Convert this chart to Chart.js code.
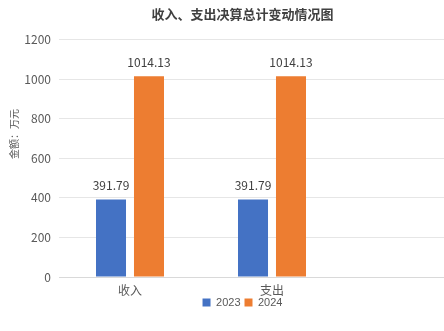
<!DOCTYPE html>
<html>
<head>
<meta charset="utf-8">
<script src="https://cdn.jsdelivr.net/npm/chart.js@4"></script>
<style>
  html, body { margin: 0; padding: 0; overflow: hidden; background: #fff; }
  #wrap { width: 490px; height: 331px; }
</style>
</head>
<body>
<div id="wrap"><canvas id="chart" width="490" height="331"></canvas></div>
<script>
const categories = ['收入', '支出', ''];
const values2023 = [391.79, 391.79, null];
const values2024 = [1014.13, 1014.13, null];
const yTicks = [0, 200, 400, 600, 800, 1000, 1200];

const FONT = '"Microsoft YaHei", "Noto Sans CJK SC", "Noto Sans", sans-serif';
const NUM_FONT = '"Liberation Sans", Arial, sans-serif';

// value labels above each bar
const valueLabels = {
  id: 'valueLabels',
  afterDatasetsDraw(chart) {
    const ctx = chart.ctx;
    ctx.save();
    ctx.font = '12px ' + FONT;
    ctx.fillStyle = '#404040';
    ctx.textAlign = 'center';
    ctx.textBaseline = 'middle';
    chart.data.datasets.forEach((ds, i) => {
      chart.getDatasetMeta(i).data.forEach((bar, j) => {
        if (ds.data[j] == null) return;
        ctx.fillText(ds.data[j].toFixed(2), bar.x, bar.y - 14);
      });
    });
    ctx.restore();
  }
};

// y axis caption (sits above the axis middle in the original)
const yCaption = {
  id: 'yCaption',
  afterDraw(chart) {
    const ctx = chart.ctx;
    ctx.save();
    ctx.translate(14, 134);
    ctx.rotate(-Math.PI / 2);
    ctx.font = '10px ' + FONT;
    ctx.fillStyle = '#595959';
    ctx.textAlign = 'center';
    ctx.textBaseline = 'middle';
    ctx.fillText('金额：万元', 0, 0);
    ctx.restore();
  }
};

// legend sits tight under the category labels
const legendNudge = {
  id: 'legendNudge',
  afterLayout(chart) {
    if (!chart.legend) return;
    chart.legend.top -= 6;
    chart.legend.bottom -= 6;
  }
};

new Chart(document.getElementById('chart'), {
  type: 'bar',
  data: {
    labels: categories,
    datasets: [
      { label: '2023', data: values2023, backgroundColor: '#4472C4' },
      { label: '2024', data: values2024, backgroundColor: '#ED7D31' },
    ],
  },
  options: {
    responsive: false,
    animation: false,
    categoryPercentage: 0.535,
    barPercentage: 0.79,
    layout: { padding: { left: 0, right: 5, top: 0, bottom: 7 } },
    plugins: {
      title: {
        display: true,
        text: '收入、支出决算总计变动情况图',
        color: '#404040',
        font: { family: FONT, size: 13, weight: 'bold' },
        padding: { top: 6, bottom: 18 },
      },
      legend: {
        position: 'bottom',
        labels: {
          boxWidth: 8,
          boxHeight: 8,
          padding: 4,
          color: '#595959',
          font: { family: NUM_FONT, size: 11 },
        },
      },
      tooltip: { enabled: false },
    },
    scales: {
      x: {
        grid: { display: false, drawTicks: false },
        border: { display: true, color: '#d9d9d9' },
        ticks: { color: '#595959', font: { family: FONT, size: 12 }, padding: 6 },
        afterFit(scale) { scale.height = 22; },
      },
      y: {
        min: 0,
        max: 1200,
        afterBuildTicks(scale) { scale.ticks = yTicks.map(v => ({ value: v })); },
        grid: { color: '#e6e6e6', drawTicks: false },
        border: { display: false },
        ticks: {
          color: '#595959',
          font: { family: FONT, size: 12 },
          padding: 8,
          callback: v => String(v),
        },
        afterFit(scale) { scale.width = 59; },
      },
    },
  },
  plugins: [valueLabels, yCaption, legendNudge],
});
</script>
</body>
</html>
